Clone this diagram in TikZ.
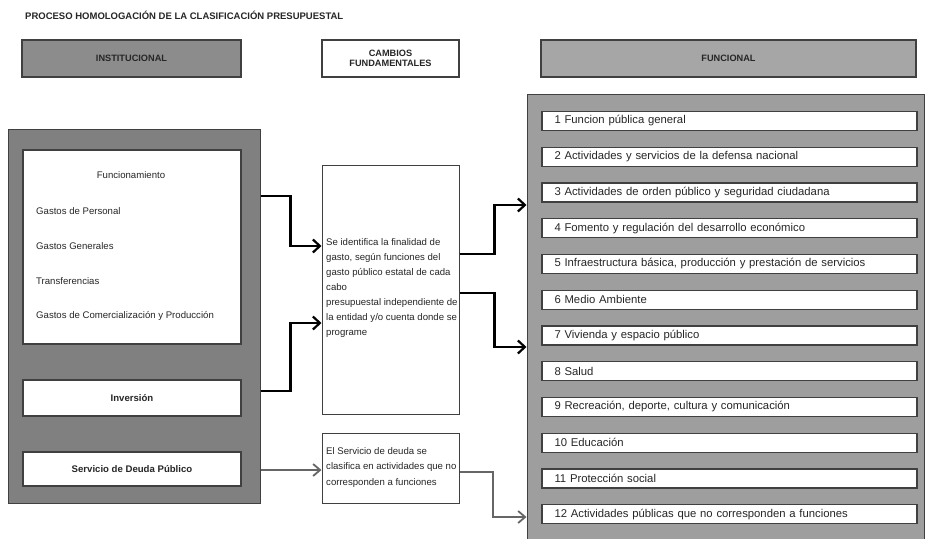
\documentclass[tikz,border=0pt]{standalone}
\usepackage{fontspec}
\setmainfont{Liberation Sans}
\usetikzlibrary{arrows.meta}
\begin{document}
\begin{tikzpicture}[x=1pt,y=-1pt,
  panel/.style={draw=black!75,line width=1pt,inner sep=0pt},
  wbox/.style={draw=black!75,line width=1.4pt,fill=white,inner sep=0pt},
  head/.style={draw=black!75,line width=1.6pt,inner sep=0pt,font=\fontsize{9.2}{10}\selectfont\bfseries,align=center,text=black!85},
  item/.style={wbox,minimum width=375pt,minimum height=19pt,text width=350pt,align=left,font=\fontsize{11.3}{12}\selectfont,text=black!85},
  lbl/.style={font=\fontsize{9.6}{11}\selectfont,text=black!85,inner sep=0pt,anchor=west},
  conn/.style={draw=black,line width=2.4pt,-{Straight Barb[length=7pt,width=13pt,line width=2.2pt]}},
  gconn/.style={draw=black!60,line width=2pt,-{Straight Barb[length=7pt,width=12pt,line width=1.8pt]}}]
\useasboundingbox[fill=white] (0,0) rectangle (928,538);

% title
\node[font=\fontsize{9.5}{10}\selectfont\bfseries,anchor=west,inner sep=0pt,text=black!85] (title) at (25,15)
  {PROCESO HOMOLOGACIÓN DE LA CLASIFICACIÓN PRESUPUESTAL};

% column headers
\node[head,fill=black!45,minimum width=219pt,minimum height=37pt] (hinst) at (131.5,58.5) {INSTITUCIONAL};
\node[head,fill=white,minimum width=137pt,minimum height=37pt] (hcamb) at (390.5,58.5) {CAMBIOS\\FUNDAMENTALES};
\node[head,fill=black!35,minimum width=375pt,minimum height=37pt] (hfun) at (728.5,58.5) {FUNCIONAL};

% institutional side
\node[panel,fill=black!50,minimum width=252pt,minimum height=374pt] (lp) at (134,316) {};
\node[wbox,minimum width=218pt,minimum height=194pt] (funb) at (132,247) {};
\node[lbl,anchor=center] (funt) at (131,175) {Funcionamiento};
\node[lbl] (g1) at (36,211) {Gastos de Personal};
\node[lbl] (g2) at (36,246) {Gastos Generales};
\node[lbl] (g3) at (36,281) {Transferencias};
\node[lbl] (g4) at (36,316) {Gastos de Comercialización y Producción};
\node[wbox,minimum width=218pt,minimum height=36pt,font=\fontsize{9.6}{11}\selectfont\bfseries,text=black!85] (inv) at (132,398) {Inversión};
\node[wbox,minimum width=218pt,minimum height=34pt,font=\fontsize{9.6}{11}\selectfont\bfseries,text=black!85] (deu) at (132,469) {Servicio de Deuda Público};

% fundamental changes
\node[wbox,line width=1pt,minimum width=137pt,minimum height=249pt] (mid) at (390.5,289.5) {};
\node[lbl,anchor=north west,align=left,font=\fontsize{9.6}{15}\selectfont] (midt) at (326,238)
  {Se identifica la finalidad de\\gasto, según funciones del\\gasto público estatal de cada\\cabo\\presupuestal independiente de\\la entidad y/o cuenta donde se\\programe};
\node[wbox,line width=1pt,minimum width=137pt,minimum height=70pt] (mid2) at (390.5,468) {};
\node[lbl,anchor=north west,align=left,font=\fontsize{9.6}{15.5}\selectfont] (mid2t) at (326,447)
  {El Servicio de deuda se\\clasifica en actividades que no\\corresponden a funciones};

% functional side
\node[panel,fill=black!38,minimum width=397pt,minimum height=446pt] (rp) at (725.5,317) {};
\foreach \n/\t in {1/1 Funcion pública general,
  2/2 Actividades y servicios de la defensa nacional,
  3/3 Actividades de orden público y seguridad ciudadana,
  4/4 Fomento y regulación del desarrollo económico,
  5/5 Infraestructura básica{,} producción y prestación de servicios,
  6/6 Medio Ambiente,
  7/7 Vivienda y espacio público,
  8/8 Salud,
  9/9 Recreación{,} deporte{,} cultura y comunicación,
  10/10 Educación,
  11/11  Protección social,
  12/12 Actividades públicas que no corresponden a funciones}
  \node[item] (f\n) at (729.5,{121+35.75*(\n-1)}) {\t};

% connectors
\draw[conn] ([yshift=120pt]lp.east) -- ++(30,0) |- ([yshift=43.5pt]mid.west);
\draw[conn] ([yshift=-75pt]lp.east) -- ++(30,0) |- ([yshift=-33.5pt]mid.west);
\draw[conn] ([yshift=35.5pt]mid.east) -- ++(35,0) |- ([yshift=112pt]rp.west);
\draw[conn] ([yshift=-3.5pt]mid.east) -- ++(35,0) |- ([yshift=-30pt]rp.west);
\draw[gconn] ([yshift=-154pt]lp.east) -- ([yshift=-2pt]mid2.west);
\draw[gconn] ([yshift=-4pt]mid2.east) -- ++(33,0) |- ([yshift=-200pt]rp.west);
\end{tikzpicture}
\end{document}
